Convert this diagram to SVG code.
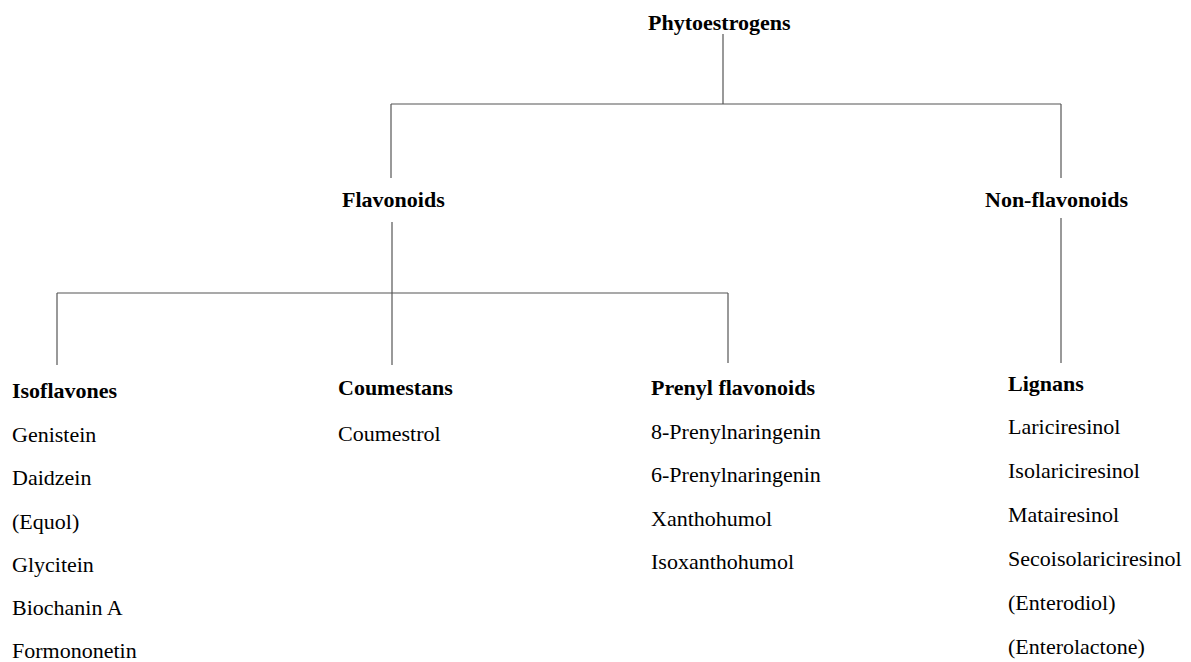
<svg xmlns="http://www.w3.org/2000/svg" width="1191" height="662" viewBox="0 0 1191 662">
<style>
text{font-family:"Liberation Serif","Times New Roman",serif;font-size:22px;fill:#000}
.b{font-weight:bold}
.c line{stroke:#555;stroke-width:1.2}
</style>
<rect width="1191" height="662" fill="#fff"/>
<g class="c" id="connectors">
<line x1="723" y1="34" x2="723" y2="104"/>
<line x1="391" y1="104" x2="1061" y2="104"/>
<line x1="391" y1="104" x2="391" y2="178"/>
<line x1="1061" y1="104" x2="1061" y2="178"/>
<line x1="392" y1="222" x2="392" y2="365"/>
<line x1="57" y1="293" x2="728" y2="293"/>
<line x1="57" y1="293" x2="57" y2="365"/>
<line x1="728" y1="293" x2="728" y2="363"/>
<line x1="1061" y1="218" x2="1061" y2="363"/>
</g>
<g id="phytoestrogens"><text class="b" x="648" y="30">Phytoestrogens</text></g>
<g id="flavonoids"><text class="b" x="342" y="207">Flavonoids</text></g>
<g id="nonflavonoids"><text class="b" x="985" y="207">Non-flavonoids</text></g>
<g id="isoflavones">
<text class="b" x="12" y="398">Isoflavones</text>
<text x="12" y="442">Genistein</text>
<text x="12" y="485">Daidzein</text>
<text x="12" y="529">(Equol)</text>
<text x="12" y="572">Glycitein</text>
<text x="12" y="615">Biochanin A</text>
<text x="12" y="658">Formononetin</text>
</g>
<g id="coumestans">
<text class="b" x="338" y="395">Coumestans</text>
<text x="338" y="441">Coumestrol</text>
</g>
<g id="prenyl">
<text class="b" x="651" y="395">Prenyl flavonoids</text>
<text x="651" y="439">8-Prenylnaringenin</text>
<text x="651" y="482">6-Prenylnaringenin</text>
<text x="651" y="526">Xanthohumol</text>
<text x="651" y="569">Isoxanthohumol</text>
</g>
<g id="lignans">
<text class="b" x="1008" y="391">Lignans</text>
<text x="1008" y="434">Lariciresinol</text>
<text x="1008" y="478">Isolariciresinol</text>
<text x="1008" y="522">Matairesinol</text>
<text x="1008" y="566">Secoisolariciresinol</text>
<text x="1008" y="610">(Enterodiol)</text>
<text x="1008" y="654">(Enterolactone)</text>
</g>
</svg>
